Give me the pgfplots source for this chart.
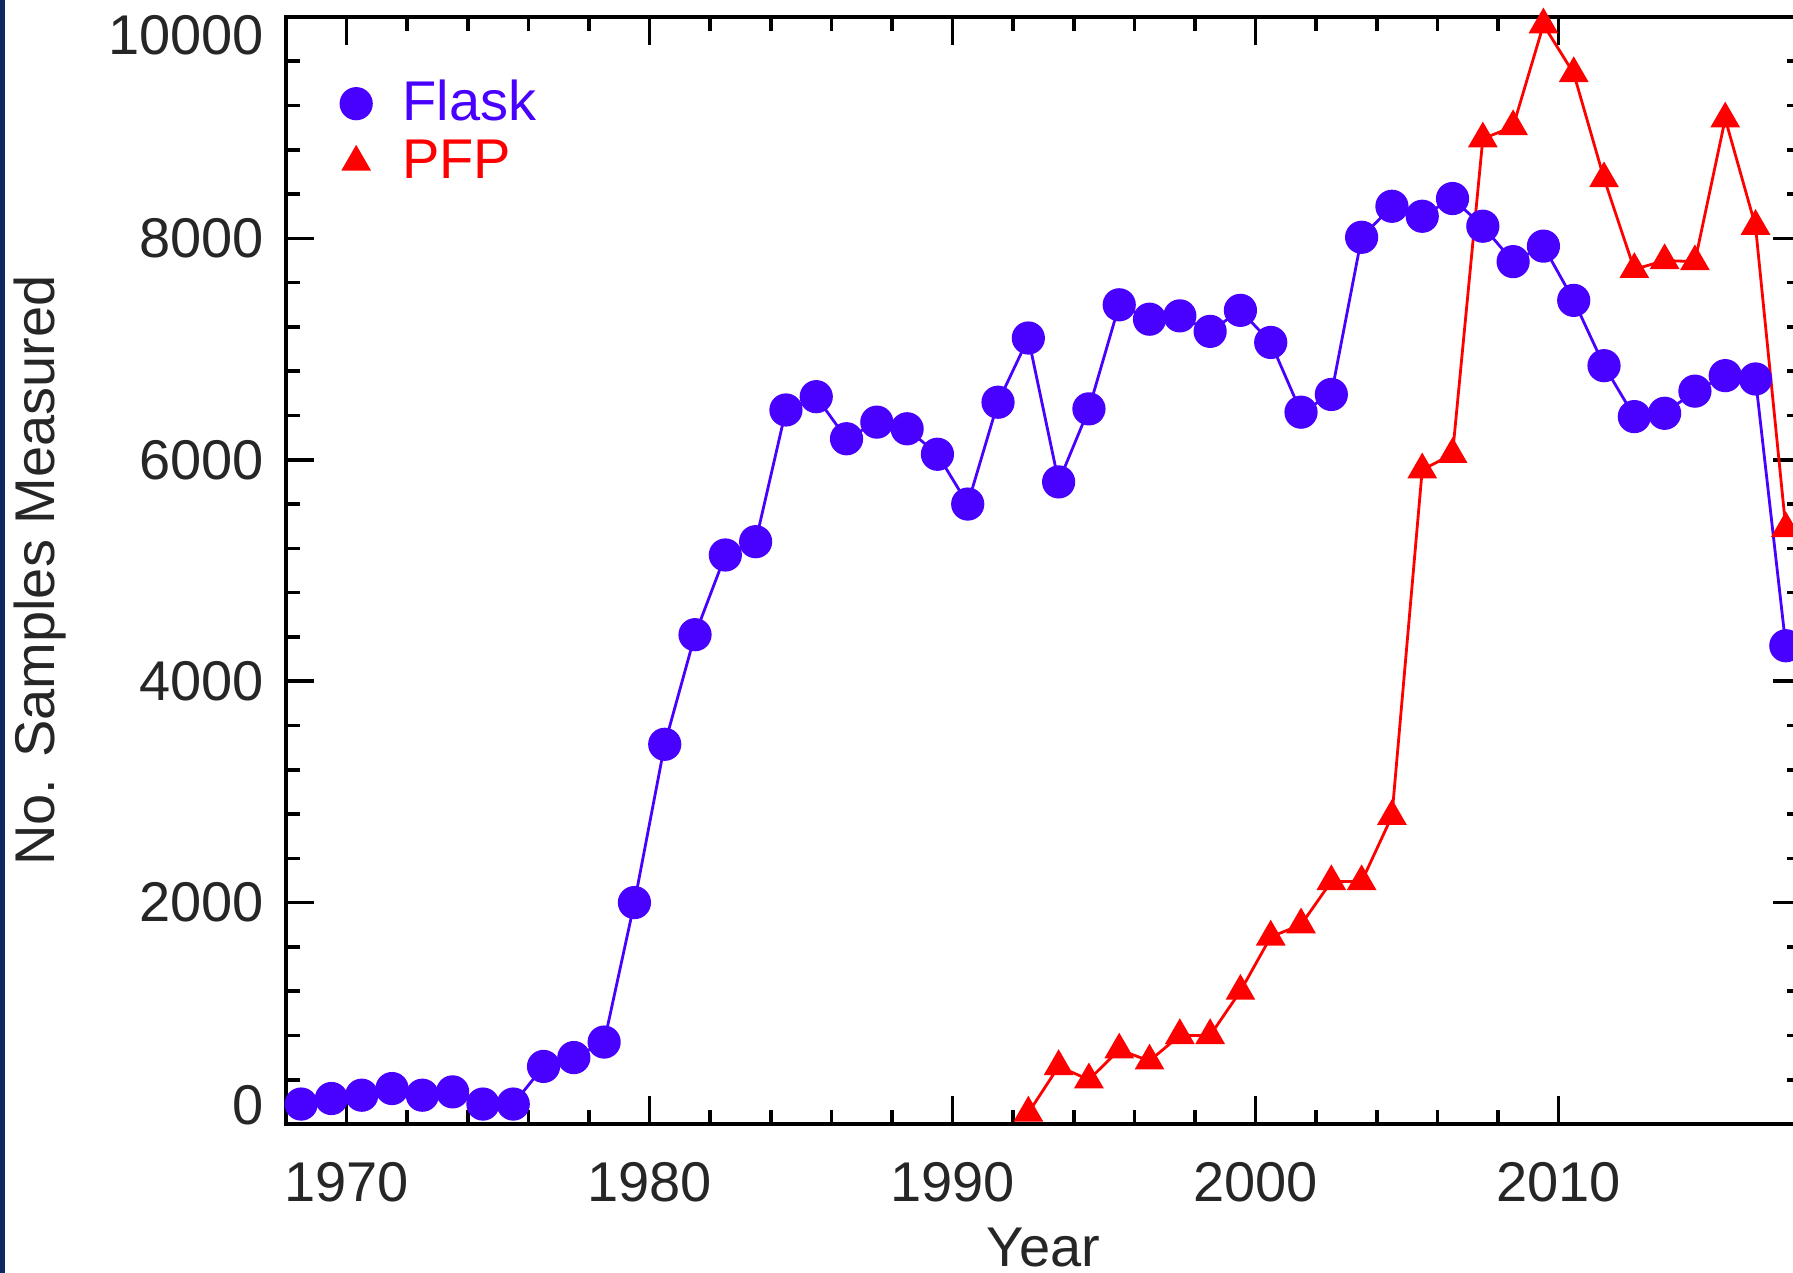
\documentclass[border=0pt]{standalone}
\usepackage{pgfplots}
\usepackage{pgfplotstable}
\pgfplotsset{compat=1.18}
\usepackage{fontspec}
\setmainfont{Liberation Sans}

\definecolor{flaskblue}{RGB}{72,0,255}
\definecolor{pfpred}{RGB}{255,0,0}
\definecolor{framenavy}{RGB}{14,40,100}

% Annual number of samples measured, plotted at mid-year
\pgfplotstableread{
year  n
1968.5 180
1969.5 230
1970.5 260
1971.5 320
1972.5 260
1973.5 290
1974.5 180
1975.5 180
1976.5 520
1977.5 600
1978.5 740
1979.5 2000
1980.5 3430
1981.5 4420
1982.5 5140
1983.5 5260
1984.5 6450
1985.5 6570
1986.5 6190
1987.5 6340
1988.5 6280
1989.5 6050
1990.5 5600
1991.5 6520
1992.5 7100
1993.5 5800
1994.5 6460
1995.5 7400
1996.5 7270
1997.5 7300
1998.5 7160
1999.5 7350
2000.5 7060
2001.5 6430
2002.5 6590
2003.5 8010
2004.5 8290
2005.5 8200
2006.5 8360
2007.5 8110
2008.5 7790
2009.5 7930
2010.5 7440
2011.5 6850
2012.5 6390
2013.5 6420
2014.5 6620
2015.5 6760
2016.5 6730
2017.5 4320
}\flask

\pgfplotstableread{
year  n
1992.5 100
1993.5 520
1994.5 400
1995.5 670
1996.5 570
1997.5 800
1998.5 800
1999.5 1200
2000.5 1690
2001.5 1800
2002.5 2190
2003.5 2190
2004.5 2780
2005.5 5910
2006.5 6050
2007.5 8900
2008.5 9010
2009.5 9930
2010.5 9490
2011.5 8540
2012.5 7720
2013.5 7800
2014.5 7790
2015.5 9080
2016.5 8110
2017.5 5380
}\pfp

\newcommand{\lblfont}{\fontsize{14}{16.8}\selectfont}

\begin{document}
\begin{tikzpicture}
% page background
\fill[white] (-71.5pt,-37.25pt) rectangle (376.75pt,281pt);
\begin{axis}[
  at={(0pt,0pt)}, anchor=south west,
  width=378.75pt, height=276.75pt, scale only axis,
  xmin=1968, xmax=2018, ymin=0, ymax=10000,
  xtick={1970,1980,1990,2000,2010}, minor x tick num=4,
  ytick={0,2000,4000,6000,8000,10000}, minor y tick num=4,
  % end labels kept inside the frame height
  yticklabel={\ifcase\ticknum
      \raisebox{4.6pt}[\height][\depth]{0}\or
      2000\or 4000\or 6000\or 8000\or
      \raisebox{-4.6pt}[\height][\depth]{10000}\fi},
  tick align=inside,
  major tick length=7pt, minor tick length=3.5pt,
  every tick/.style={black, line width=0.9pt},
  axis line style={black, line width=1pt},
  /pgf/number format/1000 sep={},
  /pgf/number format/assume math mode=true,
  scaled y ticks=false,
  tick label style={font=\lblfont, black!85},
  xticklabel style={yshift=-6pt},
  yticklabel style={xshift=-2pt},
  xlabel={Year}, ylabel={No. Samples Measured},
  label style={font=\lblfont, black!85},
  xlabel style={at={([yshift=-31pt]axis description cs:0.5,0)}, anchor=center},
  ylabel style={at={([xshift=-61.5pt]axis description cs:0,0.5)}, anchor=center},
  legend style={draw=none, fill=none, at={(0,1)}, anchor=north west,
    xshift=13.75pt, yshift=-15.85pt, inner sep=0pt, outer sep=0pt,
    row sep=3.2pt, column sep=7.75pt, font=\lblfont,
    nodes={inner sep=0pt}},
  legend cell align=left,
  legend image code/.code={\draw[#1,/tikz/only marks] plot coordinates {(0pt,0pt)};},
]
\addplot[flaskblue, line width=0.7pt, mark=*, mark size=3.8pt,
  mark options={solid, fill=flaskblue, draw=flaskblue}]
  table[x=year, y=n] {\flask};
\addlegendentry{\textcolor{flaskblue}{Flask}}
\addplot[pfpred, line width=0.7pt, mark=triangle*, mark size=3.6pt,
  mark options={solid, fill=pfpred, draw=pfpred}]
  table[x=year, y=n] {\pfp};
\addlegendentry{\textcolor{pfpred}{PFP}}
\end{axis}
% dark frame along the left edge
\fill[framenavy] (-71.5pt,-37.25pt) rectangle (-70.25pt,281pt);
\pgfresetboundingbox
\path[use as bounding box] (-71.5pt,-37.25pt) rectangle (376.75pt,281pt);
\end{tikzpicture}
\end{document}
